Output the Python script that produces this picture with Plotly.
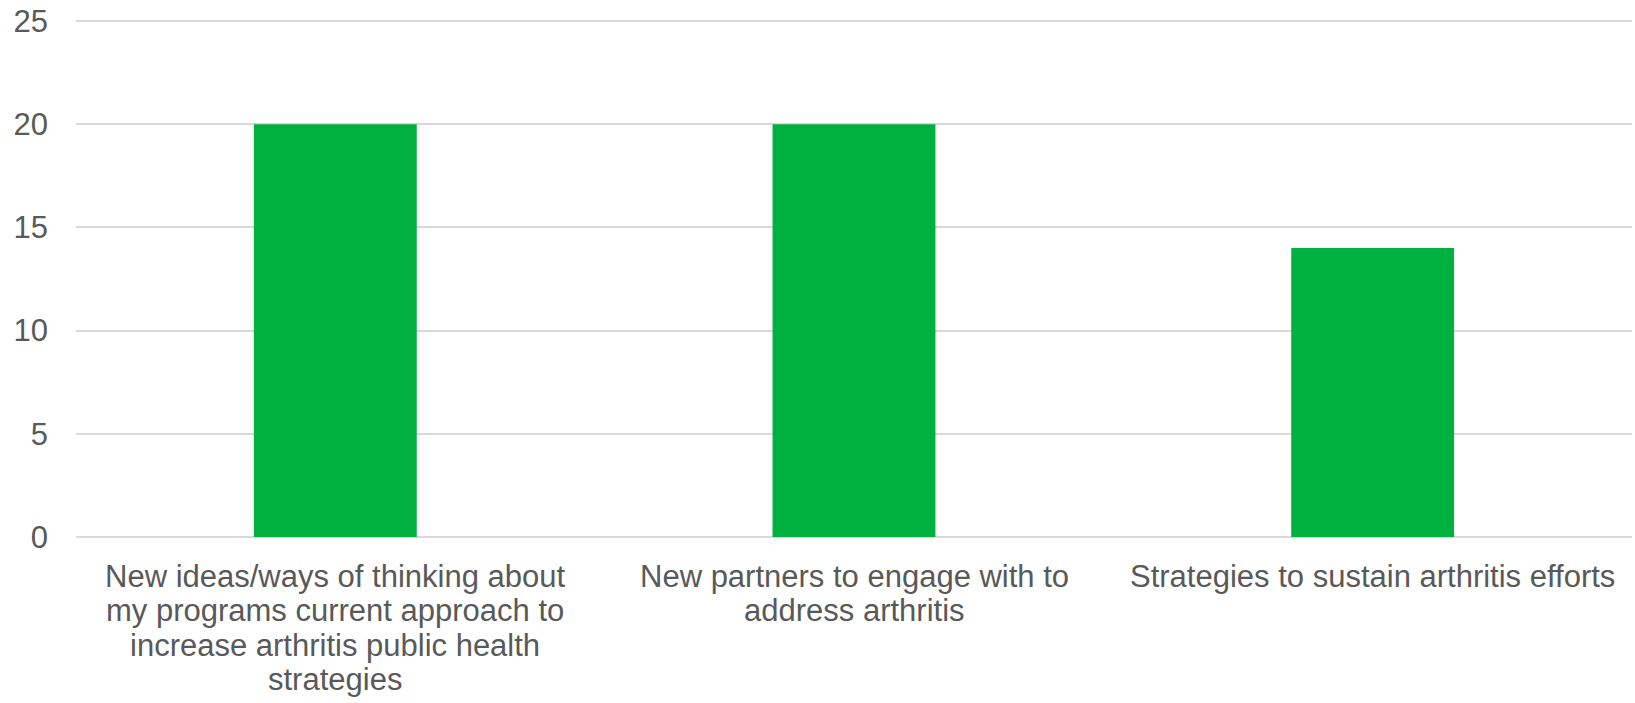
import plotly.graph_objects as go

categories = [
    "New ideas/ways of thinking about<br>my programs current approach to<br>increase arthritis public health<br>strategies",
    "New partners to engage with to<br>address arthritis",
    "Strategies to sustain arthritis efforts",
]
values = [20, 20, 14]
y_ticks = [0, 5, 10, 15, 20, 25]

font_family = "Liberation Sans, Arial, sans-serif"
text_color = "#595959"

fig = go.Figure(
    go.Bar(
        x=categories,
        y=values,
        marker=dict(color="#00B140", line=dict(width=0)),
        width=0.314,
        hoverinfo="y",
    )
)

# Category labels drawn line by line to reproduce the tighter line spacing
first_offset = 39
line_step = 34.5
annotations = []
for cat in categories:
    for i, line in enumerate(cat.split("<br>")):
        annotations.append(
            dict(
                x=cat,
                xref="x",
                y=0,
                yref="paper",
                text=line,
                showarrow=False,
                xanchor="center",
                yanchor="middle",
                yshift=-(first_offset + i * line_step),
                font=dict(family=font_family, size=31, color=text_color),
            )
        )

fig.update_layout(
    width=1635,
    height=703,
    margin=dict(l=76, r=3, t=19, b=166),
    paper_bgcolor="white",
    plot_bgcolor="white",
    showlegend=False,
    font=dict(family=font_family, size=31, color=text_color),
    annotations=annotations,
)
fig.update_xaxes(
    range=[-0.5, 2.5],
    showgrid=False,
    showline=False,
    zeroline=False,
    ticks="",
    showticklabels=False,
)
fig.update_yaxes(
    range=[0, 25.1],
    tickvals=y_ticks,
    showgrid=True,
    gridcolor="#D9D9D9",
    gridwidth=1.5,
    zeroline=True,
    zerolinecolor="#D9D9D9",
    zerolinewidth=1.5,
    showline=False,
    ticks="",
    ticklabelstandoff=27,
    tickfont=dict(family=font_family, size=31, color=text_color),
)

fig.write_html("out.html")
